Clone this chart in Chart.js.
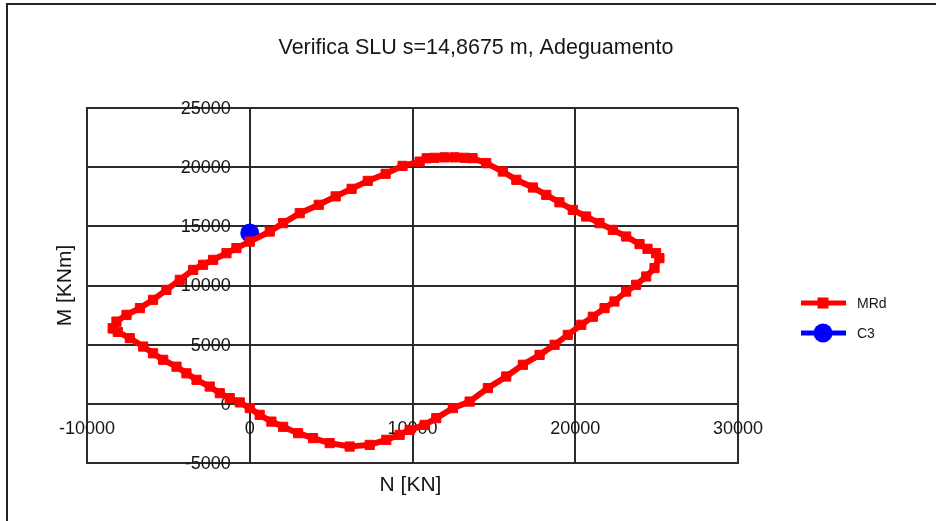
<!DOCTYPE html>
<html>
<head>
<meta charset="utf-8">
<script src="https://cdn.jsdelivr.net/npm/chart.js@4/dist/chart.umd.min.js"></script>
<style>
  html, body { margin: 0; padding: 0; background: #fff; overflow: hidden; }
  canvas { display: block; }
</style>
</head>
<body>
<canvas id="c" width="936" height="521"></canvas>
<script>
// Texts
const chartTitle = 'Verifica SLU s=14,8675 m, Adeguamento';
const xAxisTitle = 'N [KN]';
const yAxisTitle = 'M [KNm]';
const seriesNames = ['MRd', 'C3'];

// Tick values
const xTicks = [-10000, 0, 10000, 20000, 30000];
const yTicks = [-5000, 0, 5000, 10000, 15000, 20000, 25000];

// Resisting domain MRd (N [KN], M [KNm]), closed polygon
const mrdN = [
  -8410, -8190, -7570, -6750, -5940, -5120, -4300, -3480, -2870, -2250,
  -1430, -820, 0, 1230, 2050, 3070, 4240, 5280, 6260, 7250,
  8350, 9390, 10440, 10870, 11360, 11970, 12590, 13200, 13690, 14530,
  15550, 16380, 17400, 18220, 19030, 19850, 20670, 21490, 22310, 23130,
  23950, 24440, 24970, 25170, 24870, 24360, 23740, 23130, 22410, 21800,
  21080, 20370, 19540, 18730, 17810, 16780, 15760, 14630, 13510, 12480,
  11460, 10750, 9820, 9210, 8390, 7370, 6140, 4910, 3890, 2970,
  2050, 1330, 610, 0, -610, -1230, -1840, -2460, -3270, -3890,
  -4500, -5320, -5940, -6550, -7370, -8110, -8410
];
const mrdM = [
  6380, 6950, 7520, 8090, 8790, 9630, 10480, 11320, 11750, 12170,
  12730, 13160, 13710, 14560, 15270, 16110, 16820, 17530, 18170, 18840,
  19440, 20110, 20470, 20750, 20790, 20830, 20830, 20790, 20760, 20340,
  19630, 18930, 18280, 17660, 17030, 16390, 15830, 15270, 14700, 14140,
  13500, 13100, 12730, 12310, 11470, 10760, 10060, 9490, 8650, 8090,
  7360, 6680, 5830, 4990, 4140, 3300, 2310, 1330, 190, -360,
  -1210, -1780, -2200, -2620, -3040, -3470, -3610, -3320, -2900, -2480,
  -1940, -1500, -930, -360, 120, 480, 900, 1460, 2030, 2580,
  3140, 3720, 4270, 4840, 5550, 6080, 6380
];

// Acting load C3
const c3N = [0];
const c3M = [14430];

const RED = '#ff0000';
const BLUE = '#0000ff';
const GRID = '#2b2b2b';
const TEXT = '#161616';
const FONT = '"Liberation Sans", Arial, sans-serif';

const toPoints = (xs, ys) => xs.map((x, i) => ({ x: x, y: ys[i] }));

const decor = {
  id: 'decor',
  beforeDraw(chart) {
    const ctx = chart.ctx;
    ctx.save();
    ctx.fillStyle = '#fff';
    ctx.fillRect(0, 0, chart.width, chart.height);
    // outer frame (left and top edges)
    ctx.strokeStyle = '#222';
    ctx.lineWidth = 2;
    ctx.beginPath();
    ctx.moveTo(7, chart.height);
    ctx.lineTo(7, 4);
    ctx.lineTo(chart.width, 4);
    ctx.stroke();
    ctx.restore();
  },
  beforeDatasetsDraw(chart) {
    // tick labels sit on the zero lines of the other axis
    const ctx = chart.ctx;
    const xs = chart.scales.x, ys = chart.scales.y;
    const x0 = xs.getPixelForValue(0);
    const y0 = ys.getPixelForValue(0);
    ctx.save();
    ctx.fillStyle = TEXT;
    ctx.font = '18px ' + FONT;
    ctx.textBaseline = 'middle';
    ctx.textAlign = 'right';
    yTicks.forEach(v => ctx.fillText(String(v), x0 - 19, ys.getPixelForValue(v) + 1));
    ctx.textAlign = 'center';
    xTicks.forEach(v => ctx.fillText(String(v), xs.getPixelForValue(v), y0 + 25));
    ctx.restore();
  },
  afterDraw(chart) {
    const ctx = chart.ctx;
    const area = chart.chartArea;
    ctx.save();
    ctx.fillStyle = TEXT;
    ctx.textBaseline = 'middle';
    ctx.textAlign = 'center';
    // title
    ctx.font = '21.5px ' + FONT;
    ctx.fillText(chartTitle, 476, 48);
    // axis titles
    ctx.font = '21px ' + FONT;
    ctx.fillText(xAxisTitle, (area.left + area.right) / 2 - 2, 485);
    ctx.save();
    ctx.translate(65, (area.top + area.bottom) / 2);
    ctx.rotate(-Math.PI / 2);
    ctx.fillText(yAxisTitle, 0, 0);
    ctx.restore();

    // legend
    const lx1 = 801, lx2 = 846, lxm = 823;
    const rows = [303, 333];
    ctx.lineWidth = 5;
    ctx.strokeStyle = RED;
    ctx.beginPath(); ctx.moveTo(lx1, rows[0]); ctx.lineTo(lx2, rows[0]); ctx.stroke();
    ctx.fillStyle = RED;
    ctx.fillRect(lxm - 5.5, rows[0] - 5.5, 11, 11);
    ctx.strokeStyle = BLUE;
    ctx.beginPath(); ctx.moveTo(lx1, rows[1]); ctx.lineTo(lx2, rows[1]); ctx.stroke();
    ctx.fillStyle = BLUE;
    ctx.beginPath(); ctx.arc(lxm, rows[1], 9.5, 0, Math.PI * 2); ctx.fill();
    ctx.fillStyle = TEXT;
    ctx.font = '14px ' + FONT;
    ctx.textAlign = 'left';
    ctx.fillText(seriesNames[0], 857, rows[0] + 1);
    ctx.fillText(seriesNames[1], 857, rows[1] + 1);
    ctx.restore();
  }
};

new Chart(document.getElementById('c'), {
  type: 'scatter',
  data: {
    datasets: [
      {
        label: seriesNames[0],
        data: toPoints(mrdN, mrdM),
        showLine: true,
        borderColor: RED,
        backgroundColor: RED,
        borderWidth: 6,
        pointStyle: 'rect',
        pointRadius: 6.5,
        pointBorderWidth: 1,
        pointBorderColor: RED,
        pointBackgroundColor: RED,
        tension: 0
      },
      {
        label: seriesNames[1],
        data: toPoints(c3N, c3M),
        showLine: false,
        borderColor: BLUE,
        backgroundColor: BLUE,
        pointStyle: 'circle',
        pointRadius: 9.5,
        pointBorderWidth: 0,
        pointBackgroundColor: BLUE
      }
    ]
  },
  options: {
    responsive: false,
    devicePixelRatio: 1,
    animation: false,
    events: [],
    layout: { padding: { left: 87, top: 108, right: 198, bottom: 58 } },
    plugins: {
      legend: { display: false },
      title: { display: false },
      tooltip: { enabled: false }
    },
    scales: {
      x: {
        type: 'linear',
        min: -10000, max: 30000,
        ticks: { display: false, stepSize: 10000 },
        grid: { color: GRID, lineWidth: 2, drawTicks: false },
        border: { color: GRID, width: 2 }
      },
      y: {
        type: 'linear',
        min: -5000, max: 25000,
        ticks: { display: false, stepSize: 5000 },
        grid: { color: GRID, lineWidth: 2, drawTicks: false },
        border: { color: GRID, width: 2 }
      }
    }
  },
  plugins: [decor]
});
</script>
</body>
</html>
